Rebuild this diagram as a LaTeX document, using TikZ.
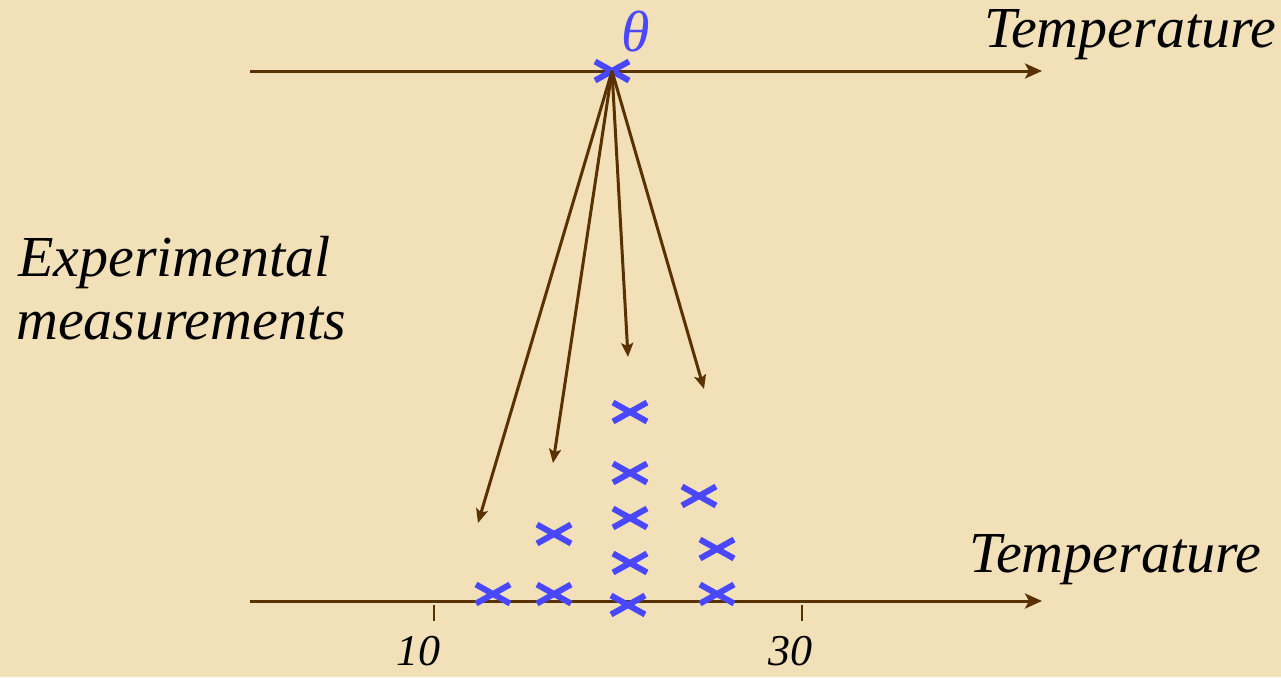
\documentclass[tikz,border=0pt]{standalone}
\usepackage{fontspec}
\setmainfont{Liberation Serif}
\usetikzlibrary{arrows.meta,shapes.misc}
\definecolor{parch}{HTML}{F2E0B9}
\definecolor{axbrown}{HTML}{5A3100}
\definecolor{xblue}{HTML}{4A48FF}
\begin{document}
\begin{tikzpicture}[x=1pt,y=-1pt,
  axisline/.style={draw=axbrown,line width=3pt,-{Stealth[length=17pt,width=15pt,inset=4pt]}},
  fanarrow/.style={draw=axbrown,line width=3pt,-{Stealth[length=14pt,width=12pt,inset=3pt]}},
  xmark/.style={cross out,draw=xblue,line width=6pt,inner sep=0pt,outer sep=0pt,minimum width=34pt,minimum height=19pt},
  tickline/.style={draw=axbrown,line width=2.5pt},
  lbl/.style={font=\fontsize{58}{64}\selectfont\itshape,inner sep=0pt,anchor=base west},
  ticklbl/.style={font=\fontsize{44}{48}\selectfont\itshape,inner sep=0pt,anchor=base}
]
\fill[parch] (0,0) rectangle (1281,677);
\useasboundingbox (0,0) rectangle (1281,677);
% axes
\coordinate (ta0) at (250,71);
\coordinate (ta1) at (1042,71);
\coordinate (ba0) at (250,601);
\coordinate (ba1) at (1042,601);
\draw[axisline] (ta0) -- (ta1);
\draw[axisline] (ba0) -- (ba1);
% ticks
\coordinate (t10a) at (434,605); \coordinate (t10b) at (434,621);
\coordinate (t30a) at (802,605); \coordinate (t30b) at (802,621);
\draw[tickline] (t10a) -- (t10b);
\draw[tickline] (t30a) -- (t30b);
\node[ticklbl] (l10) at (418,665) {10};
\node[ticklbl] (l30) at (790,665) {30};
% labels
\node[lbl] (ttop) at (984,48) {Temperature};
\node[lbl] (tbot) at (969,572) {Temperature};
\node[lbl] (exp1) at (18,276) {Experimental};
\node[lbl] (exp2) at (16,339) {measurements};
\node[font=\fontsize{58}{64}\selectfont\itshape,text=xblue,inner sep=0pt,anchor=base] (theta) at (636,52) {θ};
% theta mark
\node[xmark] (tm) at (612,71) {};
% fan arrows
\coordinate (e1) at (478,523);
\coordinate (e2) at (553,463);
\coordinate (e3) at (628,357);
\coordinate (e4) at (704,389);
\draw[fanarrow] (tm.center) -- (e1);
\draw[fanarrow] (tm.center) -- (e2);
\draw[fanarrow] (tm.center) -- (e3);
\draw[fanarrow] (tm.center) -- (e4);
% measurements
\node[xmark] (m1) at (493,594) {};
\node[xmark] (m2) at (554,594) {};
\node[xmark] (m3) at (554,534) {};
\node[xmark] (m4) at (628,605) {};
\node[xmark] (m5) at (630,563) {};
\node[xmark] (m6) at (630,518) {};
\node[xmark] (m7) at (630,473) {};
\node[xmark] (m8) at (630,412) {};
\node[xmark] (m9) at (717,594) {};
\node[xmark] (m10) at (717,549) {};
\node[xmark] (m11) at (699,496) {};
\end{tikzpicture}
\end{document}
